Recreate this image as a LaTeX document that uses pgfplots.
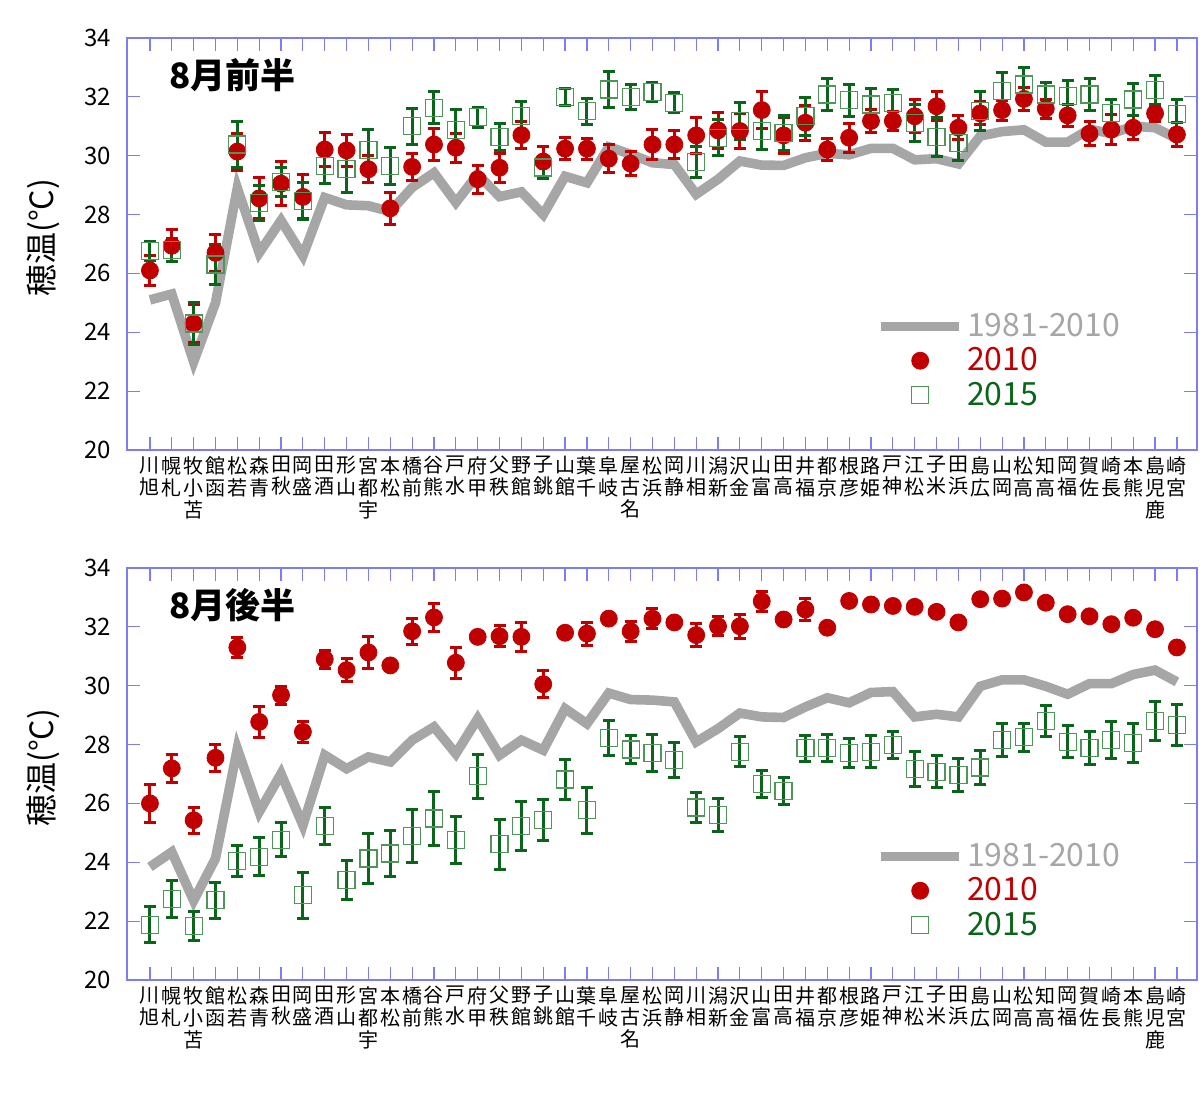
\documentclass[border=0pt]{standalone}
\usepackage{pgfplots}
\pgfplotsset{compat=1.18}
\usepackage{pgfplotstable}
\usepackage{fontspec}
\setmainfont{Noto Sans CJK JP}
\definecolor{axblue}{RGB}{125,125,240}
\definecolor{lgray}{RGB}{166,166,166}
\definecolor{dred}{RGB}{192,0,0}
\definecolor{dgreen}{RGB}{10,100,25}
\definecolor{sqgreen}{RGB}{80,150,90}

\pgfplotstableread{
i n r re g ge
0 25.10 26.10 0.50 26.75 0.32
1 25.30 26.94 0.55 26.80 0.38
2 23.00 24.30 0.65 24.30 0.70
3 25.00 26.70 0.62 26.30 0.68
4 28.90 30.14 0.63 30.38 0.77
5 26.70 28.55 0.70 28.40 0.60
6 27.80 29.05 0.75 29.10 0.50
7 26.60 28.60 0.75 28.46 0.63
8 28.58 30.21 0.57 29.65 0.60
9 28.33 30.18 0.53 29.54 0.78
10 28.30 29.54 0.45 30.20 0.70
11 28.10 28.21 0.55 29.65 0.62
12 28.92 29.62 0.47 31.00 0.62
13 29.42 30.38 0.55 31.63 0.55
14 28.41 30.27 0.50 30.86 0.70
15 29.37 29.20 0.48 31.31 0.34
16 28.61 29.59 0.50 30.63 0.47
17 28.77 30.70 0.46 31.34 0.50
18 28.00 29.80 0.52 29.60 0.38
19 29.30 30.24 0.38 31.99 0.28
20 29.08 30.24 0.36 31.51 0.45
21 30.30 29.90 0.48 32.25 0.60
22 30.05 29.73 0.40 31.99 0.43
23 29.76 30.38 0.50 32.16 0.32
24 29.70 30.38 0.47 31.80 0.34
25 28.69 30.69 0.60 29.79 0.53
26 29.20 30.86 0.62 30.61 0.62
27 29.82 30.84 0.60 31.18 0.63
28 29.68 31.55 0.64 30.84 0.63
29 29.67 30.69 0.62 30.78 0.60
30 29.93 31.12 0.60 31.34 0.64
31 30.08 30.21 0.38 32.08 0.54
32 30.03 30.61 0.49 31.88 0.54
33 30.25 31.18 0.38 31.74 0.56
34 30.25 31.18 0.33 31.80 0.45
35 29.86 31.34 0.56 31.12 0.63
36 29.90 31.68 0.50 30.63 0.66
37 29.72 30.95 0.40 30.44 0.60
38 30.67 31.44 0.39 31.51 0.67
39 30.82 31.55 0.34 32.19 0.63
40 30.88 31.93 0.38 32.42 0.58
41 30.46 31.60 0.32 32.08 0.41
42 30.46 31.37 0.37 32.02 0.54
43 30.90 30.75 0.42 32.08 0.55
44 30.75 30.89 0.52 31.46 0.45
45 31.00 30.95 0.40 31.91 0.56
46 30.95 31.44 0.27 32.23 0.48
47 30.58 30.72 0.42 31.42 0.50
}\topdata

\pgfplotstableread{
i n r re g ge
0 23.84 26.00 0.65 21.88 0.62
1 24.35 27.19 0.48 22.75 0.63
2 22.70 25.43 0.44 21.84 0.49
3 24.13 27.55 0.46 22.71 0.61
4 27.86 31.30 0.35 24.04 0.54
5 25.71 28.77 0.52 24.19 0.65
6 27.01 29.68 0.31 24.77 0.57
7 25.26 28.43 0.36 22.88 0.78
8 27.64 30.90 0.31 25.24 0.62
9 27.18 30.53 0.40 23.39 0.67
10 27.58 31.13 0.55 24.13 0.86
11 27.41 30.69 0.08 24.30 0.78
12 28.15 31.85 0.44 24.89 0.91
13 28.60 32.32 0.48 25.49 0.92
14 27.69 30.78 0.53 24.77 0.80
15 28.88 31.66 0.08 26.92 0.75
16 27.64 31.68 0.36 24.61 0.86
17 28.15 31.66 0.49 25.24 0.83
18 27.81 30.05 0.45 25.45 0.70
19 29.22 31.80 0.08 26.81 0.67
20 28.71 31.77 0.39 25.77 0.78
21 29.75 32.28 0.08 28.23 0.60
22 29.53 31.85 0.34 27.83 0.47
23 29.51 32.28 0.33 27.72 0.62
24 29.45 32.15 0.10 27.48 0.60
25 28.09 31.72 0.39 25.86 0.50
26 28.54 32.02 0.33 25.61 0.56
27 29.07 32.02 0.40 27.76 0.50
28 28.94 32.87 0.34 26.65 0.46
29 28.92 32.25 0.10 26.43 0.45
30 29.28 32.59 0.39 27.88 0.44
31 29.59 31.97 0.10 27.88 0.47
32 29.42 32.88 0.10 27.71 0.48
33 29.77 32.76 0.10 27.76 0.55
34 29.80 32.71 0.10 27.99 0.47
35 28.94 32.68 0.12 27.17 0.60
36 29.03 32.51 0.15 27.08 0.55
37 28.94 32.15 0.15 26.97 0.57
38 29.98 32.94 0.15 27.22 0.58
39 30.20 32.96 0.12 28.16 0.55
40 30.20 33.17 0.10 28.25 0.48
41 29.98 32.82 0.15 28.80 0.54
42 29.71 32.43 0.15 28.10 0.55
43 30.07 32.36 0.10 27.88 0.57
44 30.07 32.09 0.12 28.16 0.62
45 30.38 32.31 0.15 28.05 0.66
46 30.53 31.92 0.15 28.80 0.65
47 30.13 31.30 0.15 28.67 0.70
}\botdata

\pgfplotsset{
  panel/.style={
    scale only axis, width=535pt, height=206pt,
    xmin=-1.05, xmax=47.92, ymin=20, ymax=34,
    ytick={20,22,...,34},
    xtick={0,...,47},
    xticklabels={{川\\旭},{幌\\札},{牧\\小\\苫},{館\\函},{松\\若},{森\\青},{田\\秋},{岡\\盛},{田\\酒},{形\\山},{宮\\都\\宇},{本\\松},{橋\\前},{谷\\熊},{戸\\水},{府\\甲},{父\\秩},{野\\館},{子\\銚},{山\\館},{葉\\千},{阜\\岐},{屋\\古\\名},{松\\浜},{岡\\静},{川\\相},{潟\\新},{沢\\金},{山\\富},{田\\高},{井\\福},{都\\京},{根\\彦},{路\\姫},{戸\\神},{江\\松},{子\\米},{田\\浜},{島\\広},{山\\岡},{松\\高},{知\\高},{岡\\福},{賀\\佐},{崎\\長},{本\\熊},{島\\児\\鹿},{崎\\宮}},
    xticklabel style={font=\fontsize{10}{11}\selectfont, align=center, anchor=north, inner sep=0pt, yshift=-3pt},
    yticklabel style={font=\fontsize{12}{14}\selectfont, xshift=-4.5pt},
    /pgf/number format/assume math mode=true,
    tick align=inside, major tick length=6.5pt,
    axis line style={axblue, line width=0.75pt},
    every tick/.append style={axblue, line width=0.6pt},
    ylabel style={font=\fontsize{16}{18}\selectfont, at={(axis description cs:-0.0785,0.515)}, anchor=center},
    legend style={at={(axis description cs:0.70,0.335)}, anchor=north west, draw=none, fill=none,
      font=\fontsize{16}{16}\selectfont, row sep=3pt, column sep=1pt, inner sep=0pt, nodes={inner sep=0.5pt}},
    legend cell align=left,
  },
  normline/.style={lgray, line width=4.8pt, no markers,
    legend image code/.code={\draw[lgray,line width=4.8pt] (0pt,0pt) -- (39pt,0pt);}},
  redpts/.style={dred, only marks, mark=*, mark size=4.25pt, mark options={fill=dred, draw=dred},
    legend image code/.code={\fill[dred] (19.5pt,0pt) circle (4.25pt);},
    error bars/.cd, y dir=both, y explicit,
    error bar style={dred, line width=1.5pt},
    error mark options={dred, rotate=90, mark size=3pt, line width=1.5pt}},
  greenpts/.style={dgreen, only marks, mark=square, mark size=4.25pt, mark options={draw=sqgreen, line width=0.6pt, fill=none},
    legend image code/.code={\draw[sqgreen, line width=0.6pt] (15.25pt,-4.25pt) rectangle (23.75pt,4.25pt);},
    error bars/.cd, y dir=both, y explicit,
    error bar style={dgreen, line width=1.5pt},
    error mark options={dgreen, rotate=90, mark size=3pt, line width=1.5pt}},
}

\begin{document}
\begin{tikzpicture}
\path[use as bounding box] (0,0) rectangle (600pt,551.5pt);
\begin{axis}[panel, at={(63.5pt,326.5pt)}, ylabel={穂温(°C)}]
\addplot[normline] table[x=i,y=n]{\topdata};
\addlegendentry[text=lgray]{1981-2010}
\addplot[redpts] table[x=i,y=r,y error=re]{\topdata};
\addlegendentry[text=dred]{2010}
\addplot[greenpts] table[x=i,y=g,y error=ge]{\topdata};
\addlegendentry[text=dgreen]{2015}
\node[anchor=west, font=\fontsize{17.5}{20}\selectfont\bfseries] at (rel axis cs:0.033,0.91) {8月前半};
\end{axis}
\begin{axis}[panel, at={(63.5pt,61.5pt)}, ylabel={穂温(°C)}]
\addplot[normline] table[x=i,y=n]{\botdata};
\addlegendentry[text=lgray]{1981-2010}
\addplot[redpts] table[x=i,y=r,y error=re]{\botdata};
\addlegendentry[text=dred]{2010}
\addplot[greenpts] table[x=i,y=g,y error=ge]{\botdata};
\addlegendentry[text=dgreen]{2015}
\node[anchor=west, font=\fontsize{17.5}{20}\selectfont\bfseries] at (rel axis cs:0.033,0.91) {8月後半};
\end{axis}
\end{tikzpicture}
\end{document}
